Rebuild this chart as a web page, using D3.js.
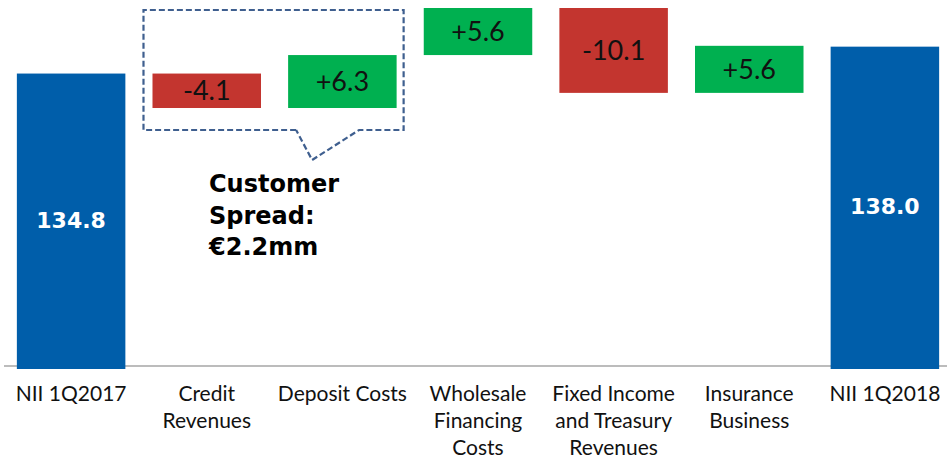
<!DOCTYPE html>
<html>
<head>
<meta charset="utf-8">
<script src="https://cdn.jsdelivr.net/npm/d3@7"></script>
<style>
  body { margin: 0; background: #fff; }
  svg { display: block; }
</style>
</head>
<body>
<svg id="chart" width="947" height="461"></svg>
<script>
// categories (tick labels, wrapped as on the slide)
var categories = ["NII 1Q2017", "Credit Revenues", "Deposit Costs", "Wholesale Financing Costs",
  "Fixed Income and Treasury Revenues", "Insurance Business", "NII 1Q2018"];
var tickLines = [["NII 1Q2017"], ["Credit", "Revenues"], ["Deposit Costs"], ["Wholesale", "Financing", "Costs"],
  ["Fixed Income", "and Treasury", "Revenues"], ["Insurance", "Business"], ["NII 1Q2018"]];
// values: totals for first/last, deltas between
var values = [134.8, -4.1, 6.3, 5.6, -10.1, 5.6, 138.0];
var isTotal = [true, false, false, false, false, false, true];
var valueLabels = ["134.8", "-4.1", "+6.3", "+5.6", "-10.1", "+5.6", "138.0"];
var calloutLines = ["Customer", "Spread:", "\u20AC2.2mm"];

var colors = { total: "#005EAA", up: "#00B050", down: "#C3352F" };

var svg = d3.select('#chart');

var x = d3.scaleBand().domain(categories).range([3.3, 952.7]).paddingInner(0.2).paddingOuter(0.1);
var y = d3.scaleLinear().domain([100, 142.6]).range([366, 8]);

// build waterfall rows
var running = 0;
var rows = categories.map(function(c, i){
  var v = values[i], r;
  if (isTotal[i]) {
    r = { cat: c, lo: y.domain()[0], hi: v, type: 'total' };
    running = v;
  } else {
    var start = running;
    running = start + v;
    r = { cat: c, lo: Math.min(start, running), hi: Math.max(start, running), type: v < 0 ? 'down' : 'up' };
  }
  r.label = valueLabels[i];
  r.lines = tickLines[i];
  return r;
});

// baseline
svg.append('line')
  .attr('x1', 4).attr('x2', 947)
  .attr('y1', y(100)).attr('y2', y(100))
  .attr('stroke', '#A6A6A6').attr('stroke-width', 1.5);

// bars
svg.selectAll('rect.bar').data(rows).enter().append('rect')
  .attr('class', 'bar')
  .attr('x', function(d){ return x(d.cat); })
  .attr('width', x.bandwidth())
  .attr('y', function(d){ return y(d.hi); })
  .attr('height', function(d){ return y(d.lo) - y(d.hi) + (d.type == 'total' ? 3 : 0); })
  .attr('fill', function(d){ return colors[d.type]; });

// value labels
svg.selectAll('text.val').data(rows).enter().append('text')
  .attr('class', 'val')
  .attr('x', function(d){ return x(d.cat) + x.bandwidth()/2; })
  .attr('y', function(d){ return (y(d.lo) + y(d.hi))/2; })
  .attr('dy', '0.36em')
  .attr('text-anchor', 'middle')
  .attr('font-family', function(d){ return d.type == 'total' ? 'DejaVu Sans' : 'Lato'; })
  .attr('font-weight', function(d){ return d.type == 'total' ? 'bold' : 'normal'; })
  .attr('font-size', function(d){ return d.type == 'total' ? 22 : 27; })
  .attr('fill', function(d){ return d.type == 'total' ? '#fff' : '#111'; })
  .text(function(d){ return d.label; });

// category labels
var ticks = svg.selectAll('text.tick').data(rows).enter().append('text')
  .attr('class', 'tick')
  .attr('text-anchor', 'middle')
  .attr('font-family', 'Lato')
  .attr('font-size', 21)
  .attr('fill', '#111');
ticks.each(function(d){
  var t = d3.select(this);
  d.lines.forEach(function(l, j){
    t.append('tspan')
      .attr('x', x(d.cat) + x.bandwidth()/2)
      .attr('y', 401 + j*27)
      .text(l);
  });
});

// dashed callout round Credit Revenues and Deposit Costs
var bx0 = x(categories[1]) - 9, bx1 = x(categories[2]) + x.bandwidth() + 7;
var by0 = 10, by1 = 130;
var p1 = x(categories[2]) + 8, p2 = p1 + 16, p3 = p1 + 63;
var callout = [[p1, by1], [bx0, by1], [bx0, by0], [bx1, by0], [bx1, by1], [p3, by1], [p2, 160], [p1, by1]];
svg.append('path')
  .attr('d', d3.line()(callout))
  .attr('fill', 'none')
  .attr('stroke', '#3F5F8F')
  .attr('stroke-width', 2.2)
  .attr('stroke-dasharray', '6,3');

var ct = svg.append('text')
  .attr('font-family', 'DejaVu Sans')
  .attr('font-weight', 'bold')
  .attr('font-size', 24)
  .attr('fill', '#000');
calloutLines.forEach(function(l, j){
  ct.append('tspan').attr('x', 209).attr('y', 192 + j*31.5).text(l);
});
</script>
</body>
</html>
